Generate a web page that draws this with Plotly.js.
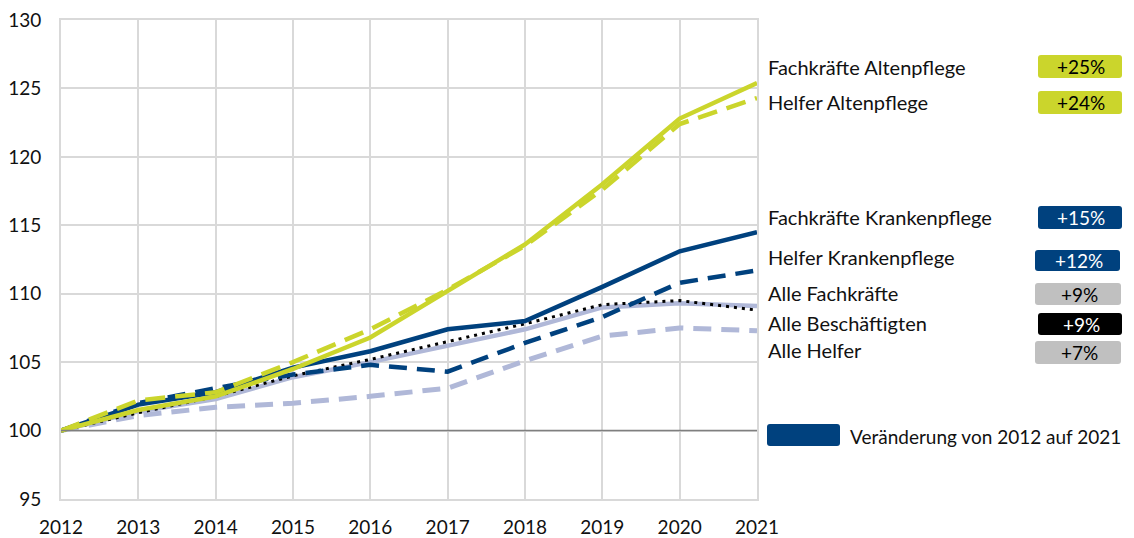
<!DOCTYPE html>
<html><head><meta charset="utf-8">
<script src="https://cdn.plot.ly/plotly-3.0.1.min.js"></script>
<style>body{margin:0;background:#fff}#chart{width:1134px;height:538px}</style>
</head><body><div id="chart"></div>
<script>
const years = [2012,2013,2014,2015,2016,2017,2018,2019,2020,2021];
const fachAlten   = [100,101.5,102.5,104.5,106.8,110.2,113.6,118.0,122.8,125.4];
const helferAlten = [100,102.2,102.8,105.0,107.4,110.3,113.5,117.6,122.4,124.3];
const fachKranken = [100,101.9,102.8,104.6,105.8,107.4,108.0,110.5,113.1,114.5];
const helferKranken=[100,102.0,103.1,104.1,104.8,104.3,106.4,108.3,110.8,111.7];
const alleFach    = [100,101.4,102.3,103.9,105.0,106.2,107.4,109.0,109.3,109.1];
const alleBesch   = [100,101.3,102.5,104.0,105.2,106.5,107.8,109.2,109.5,108.8];
const alleHelfer  = [100,101.1,101.7,102.0,102.5,103.1,105.1,106.9,107.5,107.3];
const seriesNames = ["Fachkräfte Altenpflege","Helfer Altenpflege","Fachkräfte Krankenpflege","Helfer Krankenpflege","Alle Fachkräfte","Alle Beschäftigten","Alle Helfer"];
const badgeLabels = ["+25%","+24%","+15%","+12%","+9%","+9%","+7%"];
const legendLabel = "Veränderung von 2012 auf 2021";

const GREEN="#cbd52c", NAVY="#00417e", LAV="#b0b8d8", GRAY="#c0c0c0", BLACK="#000000";
const L=61, R=757, T=20, B=499;
const px = v => (v-L)/(R-L);
const py = v => (B-v)/(B-T);

function line(y, name, color, dash, width){
  return {x:years, y:y, name:name, type:'scatter', mode:'lines',
    line:{color:color, width:width, dash:dash}, hoverinfo:'skip'};
}
const traces = [
  line(alleHelfer, seriesNames[6], LAV, '18px,10px', 5),
  line(alleFach, seriesNames[4], LAV, 'solid', 4.5),
  line(alleBesch, seriesNames[5], BLACK, '3px,5px', 3),
  line(helferKranken, seriesNames[3], NAVY, '18px,10px', 4.5),
  line(fachKranken, seriesNames[2], NAVY, 'solid', 4.5),
  line(helferAlten, seriesNames[1], GREEN, '20px,10px', 4.5),
  line(fachAlten, seriesNames[0], GREEN, 'solid', 4.5)
];

function rrect(x0p,y0p,x1p,y1p,fill){
  const r=3;
  const x0=px(x0p), x1=px(x1p), y0=py(y1p), y1=py(y0p);
  const rx=r/(R-L), ry=r/(B-T);
  const p=`M ${x0+rx},${y0} L ${x1-rx},${y0} Q ${x1},${y0} ${x1},${y0+ry} L ${x1},${y1-ry} Q ${x1},${y1} ${x1-rx},${y1} L ${x0+rx},${y1} Q ${x0},${y1} ${x0},${y1-ry} L ${x0},${y0+ry} Q ${x0},${y0} ${x0+rx},${y0} Z`;
  return {type:'path', xref:'paper', yref:'paper', path:p, fillcolor:fill, line:{width:0}, layer:'above'};
}

const labelY = [67,102,217,257,293,323,350];
const badgeBox = [[1038,55,1122,78],[1038,91,1122,114],[1038,206,1122,229],[1035,250,1120,271],[1035,283,1121,305],[1038,313,1122,335],[1035,341,1121,364]];
const badgeFill = [GREEN,GREEN,NAVY,NAVY,GRAY,BLACK,GRAY];
const badgeText = ["#000","#000","#fff","#fff","#000","#fff","#000"];

const shapes = [
  {type:'line', xref:'x', yref:'y', x0:years[0], x1:years[years.length-1], y0:100, y1:100, line:{color:'#7f7f7f', width:1.5}, layer:'above'}
];
const annotations = [];
seriesNames.forEach((n,i)=>{
  annotations.push({xref:'paper', yref:'paper', x:px(766), y:py(labelY[i]), xanchor:'left', yanchor:'middle',
    text:n, showarrow:false, font:{family:'Lato, sans-serif', size:20, color:'#111'}});
  const b=badgeBox[i];
  shapes.push(rrect(b[0],b[1],b[2],b[3],badgeFill[i]));
  annotations.push({xref:'paper', yref:'paper', x:px((b[0]+b[2])/2+1), y:py((b[1]+b[3])/2), xanchor:'center', yanchor:'middle',
    text:badgeLabels[i], showarrow:false, font:{family:'Lato, sans-serif', size:19, color:badgeText[i]}});
});
shapes.push(rrect(767,424,840,446,NAVY));
annotations.push({xref:'paper', yref:'paper', x:px(848), y:py(436), xanchor:'left', yanchor:'middle',
  text:legendLabel, showarrow:false, font:{family:'Lato, sans-serif', size:19, color:'#111'}});

const layout = {
  width:1134, height:538,
  margin:{l:L, r:1134-R, t:T, b:538-B},
  paper_bgcolor:'#fff', plot_bgcolor:'#fff',
  showlegend:false,
  font:{family:'Lato, sans-serif', size:19, color:'#111'},
  xaxis:{range:[2012,2021], tickvals:years, ticktext:years.map(String), showgrid:true, gridcolor:'#d9d9d9', gridwidth:2,
    zeroline:false, showline:true, linecolor:'#d9d9d9', linewidth:2, mirror:true, ticks:'', ticklen:0,
    tickfont:{size:19}, ticklabelstandoff:10},
  yaxis:{range:[95,130], dtick:5, tick0:95, showgrid:true, gridcolor:'#d9d9d9', gridwidth:2, zeroline:false,
    showline:true, linecolor:'#d9d9d9', linewidth:2, mirror:true, ticks:'', tickfont:{size:19}, ticklabelstandoff:14},
  shapes:shapes, annotations:annotations
};
Plotly.newPlot('chart', traces, layout, {displayModeBar:false, staticPlot:true});
</script></body></html>
